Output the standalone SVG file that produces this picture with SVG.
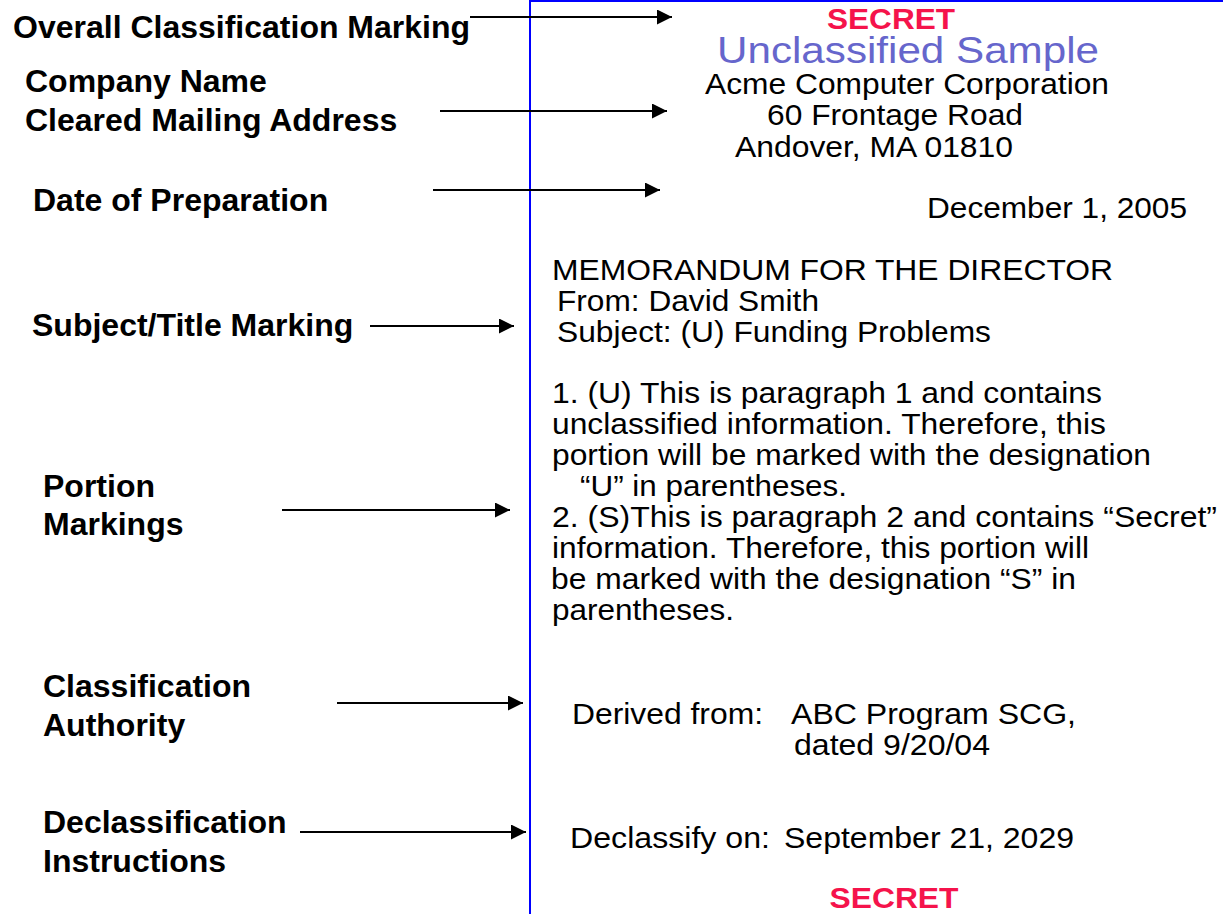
<svg xmlns="http://www.w3.org/2000/svg" width="1223" height="914" viewBox="0 0 1223 914">
<style>
.lbl{font-family:"Liberation Sans",Arial,sans-serif;font-weight:bold;font-size:32px;fill:#000}
.doc{font-family:"Liberation Sans",Arial,sans-serif;font-size:29.5px;fill:#000}
.sec{font-family:"Liberation Sans",Arial,sans-serif;font-weight:bold;font-size:29px;fill:#F5134B}
.conn{stroke:#000;stroke-width:2.2;fill:none}
</style>
<defs>
<marker id="ah" markerUnits="userSpaceOnUse" markerWidth="16" markerHeight="16" refX="15" refY="7.5" orient="auto">
<path d="M0,0 L15,7.5 L0,15 Z" fill="#000"/>
</marker>
</defs>
<rect width="1223" height="914" fill="#fff"/>
<g id="page-border" stroke="#0000FF" stroke-width="2" fill="none">
<line x1="530" y1="0" x2="530" y2="914"/>
<line x1="530" y1="1" x2="1223" y2="1"/>
</g>
<g id="labels">
<g id="lbl-overall"><text class="lbl" x="13" y="38">Overall Classification Marking</text></g>
<g id="lbl-company"><text class="lbl" x="25" y="92">Company Name</text><text class="lbl" x="25" y="131">Cleared Mailing Address</text></g>
<g id="lbl-date"><text class="lbl" x="33" y="211">Date of Preparation</text></g>
<g id="lbl-subject"><text class="lbl" x="32" y="336">Subject/Title Marking</text></g>
<g id="lbl-portion"><text class="lbl" x="43" y="497">Portion</text><text class="lbl" x="43" y="535">Markings</text></g>
<g id="lbl-authority"><text class="lbl" x="43" y="697">Classification</text><text class="lbl" x="43" y="736">Authority</text></g>
<g id="lbl-declass"><text class="lbl" x="43" y="833">Declassification</text><text class="lbl" x="43" y="872">Instructions</text></g>
</g>
<g id="connectors">
<line class="conn" x1="470" y1="17" x2="672" y2="17" marker-end="url(#ah)"/>
<line class="conn" x1="440" y1="111" x2="667" y2="111" marker-end="url(#ah)"/>
<line class="conn" x1="433" y1="190" x2="660" y2="190" marker-end="url(#ah)"/>
<line class="conn" x1="370" y1="326" x2="514" y2="326" marker-end="url(#ah)"/>
<line class="conn" x1="282" y1="510" x2="510" y2="510" marker-end="url(#ah)"/>
<line class="conn" x1="337" y1="703" x2="523" y2="703" marker-end="url(#ah)"/>
<line class="conn" x1="300" y1="832" x2="526" y2="832" marker-end="url(#ah)"/>
</g>
<g id="document">
<g id="doc-secret-top"><text class="sec" x="891" y="29" text-anchor="middle" textLength="128" lengthAdjust="spacingAndGlyphs">SECRET</text></g>
<g id="doc-sample"><text x="717" y="63" font-family="Liberation Sans, Arial, sans-serif" font-size="36" fill="#6666CC" textLength="382" lengthAdjust="spacingAndGlyphs">Unclassified Sample</text></g>
<g id="doc-address">
<text class="doc" x="705" y="94" textLength="404" lengthAdjust="spacingAndGlyphs">Acme Computer Corporation</text>
<text class="doc" x="767" y="125" textLength="256" lengthAdjust="spacingAndGlyphs">60 Frontage Road</text>
<text class="doc" x="735" y="157" textLength="278" lengthAdjust="spacingAndGlyphs">Andover, MA 01810</text>
</g>
<g id="doc-date"><text class="doc" x="927" y="218" textLength="260" lengthAdjust="spacingAndGlyphs">December 1, 2005</text></g>
<g id="doc-header">
<text class="doc" x="552" y="280" textLength="561" lengthAdjust="spacingAndGlyphs">MEMORANDUM FOR THE DIRECTOR</text>
<text class="doc" x="557" y="311" textLength="262" lengthAdjust="spacingAndGlyphs">From: David Smith</text>
<text class="doc" x="557" y="342" textLength="434" lengthAdjust="spacingAndGlyphs">Subject: (U) Funding Problems</text>
</g>
<g id="doc-portions">
<text class="doc" x="552" y="403" textLength="550" lengthAdjust="spacingAndGlyphs">1. (U) This is paragraph 1 and contains</text>
<text class="doc" x="552" y="434" textLength="554" lengthAdjust="spacingAndGlyphs">unclassified information. Therefore, this</text>
<text class="doc" x="552" y="465" textLength="599" lengthAdjust="spacingAndGlyphs">portion will be marked with the designation</text>
<text class="doc" x="580" y="496" textLength="267" lengthAdjust="spacingAndGlyphs">“U” in parentheses.</text>
<text class="doc" x="552" y="527" textLength="665" lengthAdjust="spacingAndGlyphs">2. (S)This is paragraph 2 and contains “Secret”</text>
<text class="doc" x="552" y="558" textLength="537" lengthAdjust="spacingAndGlyphs">information. Therefore, this portion will</text>
<text class="doc" x="551" y="589" textLength="525" lengthAdjust="spacingAndGlyphs">be marked with the designation “S” in</text>
<text class="doc" x="552" y="620" textLength="182" lengthAdjust="spacingAndGlyphs">parentheses.</text>
</g>
<g id="doc-derived">
<text class="doc" y="724"><tspan x="572" textLength="191" lengthAdjust="spacingAndGlyphs">Derived from:</tspan><tspan x="791" textLength="285" lengthAdjust="spacingAndGlyphs">ABC Program SCG,</tspan></text>
<text class="doc" x="794" y="755" textLength="196" lengthAdjust="spacingAndGlyphs">dated 9/20/04</text>
</g>
<g id="doc-declass">
<text class="doc" y="848"><tspan x="570" textLength="200" lengthAdjust="spacingAndGlyphs">Declassify on:</tspan><tspan x="784" textLength="290" lengthAdjust="spacingAndGlyphs">September 21, 2029</tspan></text>
</g>
<g id="doc-secret-bottom"><text class="sec" x="894" y="908" text-anchor="middle" textLength="129" lengthAdjust="spacingAndGlyphs">SECRET</text></g>
</g>
</svg>
